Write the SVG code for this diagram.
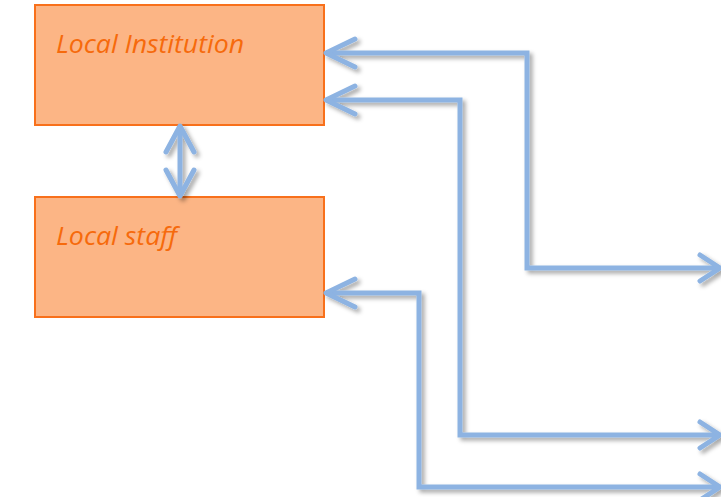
<svg xmlns="http://www.w3.org/2000/svg" width="721" height="497" viewBox="0 0 721 497">
  <defs>
    <style>
      .box { fill: #fcb585; stroke: #f8701b; stroke-width: 2; }
      .label { font-family: "Open Sans", "Liberation Sans", sans-serif; font-style: italic; font-size: 25px; fill: #f66a0c; }
      .wire { fill: none; stroke: #8db3e2; stroke-width: 5; stroke-linejoin: miter; }
      .head { fill: none; stroke: #8db3e2; stroke-width: 5; stroke-linecap: round; stroke-linejoin: round; }
    </style>
    <filter id="shadow" x="-10%" y="-10%" width="120%" height="120%">
      <feDropShadow dx="3" dy="3" stdDeviation="2" flood-color="#000" flood-opacity="0.35"/>
    </filter>
  </defs>

  <g id="local-institution">
    <rect class="box" x="35" y="5" width="289" height="120"/>
    <text class="label" x="56" y="53" textLength="188" lengthAdjust="spacingAndGlyphs">Local Institution</text>
  </g>

  <g id="local-staff">
    <rect class="box" x="35" y="197" width="289" height="120"/>
    <text class="label" x="56" y="245" textLength="121" lengthAdjust="spacingAndGlyphs">Local staff</text>
  </g>

  <g id="connectors" filter="url(#shadow)">
    <!-- institution <-> staff -->
    <path class="wire" d="M180,127 V195"/>
    <path class="head" d="M166,152 L180,126 L194,152 M166,170 L180,196 L194,170"/>

    <!-- institution top edge out to the right -->
    <path class="wire" d="M326,53 H527 V268 H720"/>
    <path class="head" d="M355,39 L326,53 L355,67 M700,255 L720,268 L700,281"/>

    <!-- institution lower edge out to the right -->
    <path class="wire" d="M326,100 H460 V435 H720"/>
    <path class="head" d="M355,86 L326,100 L355,114 M700,422 L720,435 L700,448"/>

    <!-- staff out to the right -->
    <path class="wire" d="M326,293 H419 V487 H720"/>
    <path class="head" d="M355,279 L326,293 L355,307 M700,474 L720,487 L700,500"/>
  </g>
</svg>
